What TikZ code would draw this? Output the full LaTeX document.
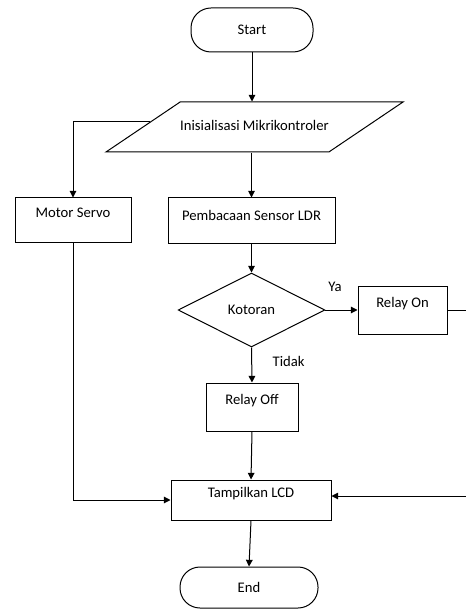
\documentclass[tikz,border=0pt]{standalone}
\usepackage{fontspec}
\setmainfont{Carlito}
\usetikzlibrary{positioning}
\usetikzlibrary{arrows.meta}
\usetikzlibrary{shapes.geometric}
\usetikzlibrary{calc}

\tikzset{
    teks/.style={font=\fontsize{11}{13}\selectfont},
    kotak/.style={teks,shape=rectangle,draw=black,line width=0.75pt,inner sep=0pt,text height=8pt,text depth=12pt},
    ujung/.style={teks,shape=rectangle,rounded corners=15pt,draw=black,line width=0.75pt,inner sep=0pt},
    masukan/.style={teks,shape=trapezium,trapezium left angle=34,trapezium right angle=146,trapezium stretches body=true,draw=black,line width=0.75pt,inner xsep=0pt,inner ysep=13.25pt,text height=8pt,text depth=3pt},
    keputusan/.style={teks,shape=diamond,draw=black,line width=0.75pt,inner sep=0pt},
    panah/.style={-{Triangle[length=5pt, width=5pt]},line width=0.75pt},
}

\begin{document}
\begin{tikzpicture}[x=0.75pt,y=-0.75pt]
    \useasboundingbox (0,0) rectangle (466,609);

    \node[ujung,minimum width=91.5pt,minimum height=33pt] (Start) at (252,30) {Start};
    \node[masukan,minimum width=222.75pt] (Init) at (254.5,127) {Inisialisasi Mikrikontroler};
    \node[kotak,minimum width=87pt,minimum height=33.75pt] (Motor_S) at (73,220.5) {Motor Servo};
    \node[kotak,text depth=8pt,minimum width=125.25pt,minimum height=34.5pt] (Baca_LDR) at (251.5,221) {Pembacaan Sensor LDR};
    \node[keputusan,minimum width=110pt,minimum height=55.5pt] (Kotoran) at (251.5,310) {Kotoran};
    \node[kotak,minimum width=66.75pt,minimum height=36pt] (Relay_On) at (402.5,310) {Relay On};
    \node[kotak,minimum width=69pt,minimum height=36pt] (Relay_Off) at (252,407) {Relay Off};
    \node[kotak,minimum width=120pt,minimum height=30pt] (LCD) at (251,500) {Tampilkan LCD};
    \node[ujung,minimum width=103.5pt,minimum height=30.75pt] (End) at (249,587.5) {End};
    \coordinate (Kanan) at (472,310);


    \draw[panah] (Start.south) -- (Start.south |- Init.north);
    \draw[panah] ($(Init.west)!0.2!(Init.top left corner)$) -| (Motor_S.north);
    \draw[panah] (Baca_LDR.north |- Init.south) -- (Baca_LDR.north);

    \draw[panah] (Baca_LDR.south) -- (Kotoran.north);
    \draw[panah] (Kotoran.east) -- node[teks,pos=0.3,above=10pt] (Ya) {Ya} (Relay_On.west);
    \draw[panah] (Kotoran.south) -- node[teks,pos=0.4,right=12pt] (Tidak) {Tidak} (Relay_Off.north);

    \draw[panah] (Relay_Off.south) -- (LCD.north);
    \draw[panah] (Motor_S.south) |- (LCD.west);
    \draw[panah] (Relay_On.east) -- (Kanan) |- ([yshift=3pt]LCD.east);
    \draw[panah] (LCD.south) -- (End.north);
\end{tikzpicture}
\end{document}
